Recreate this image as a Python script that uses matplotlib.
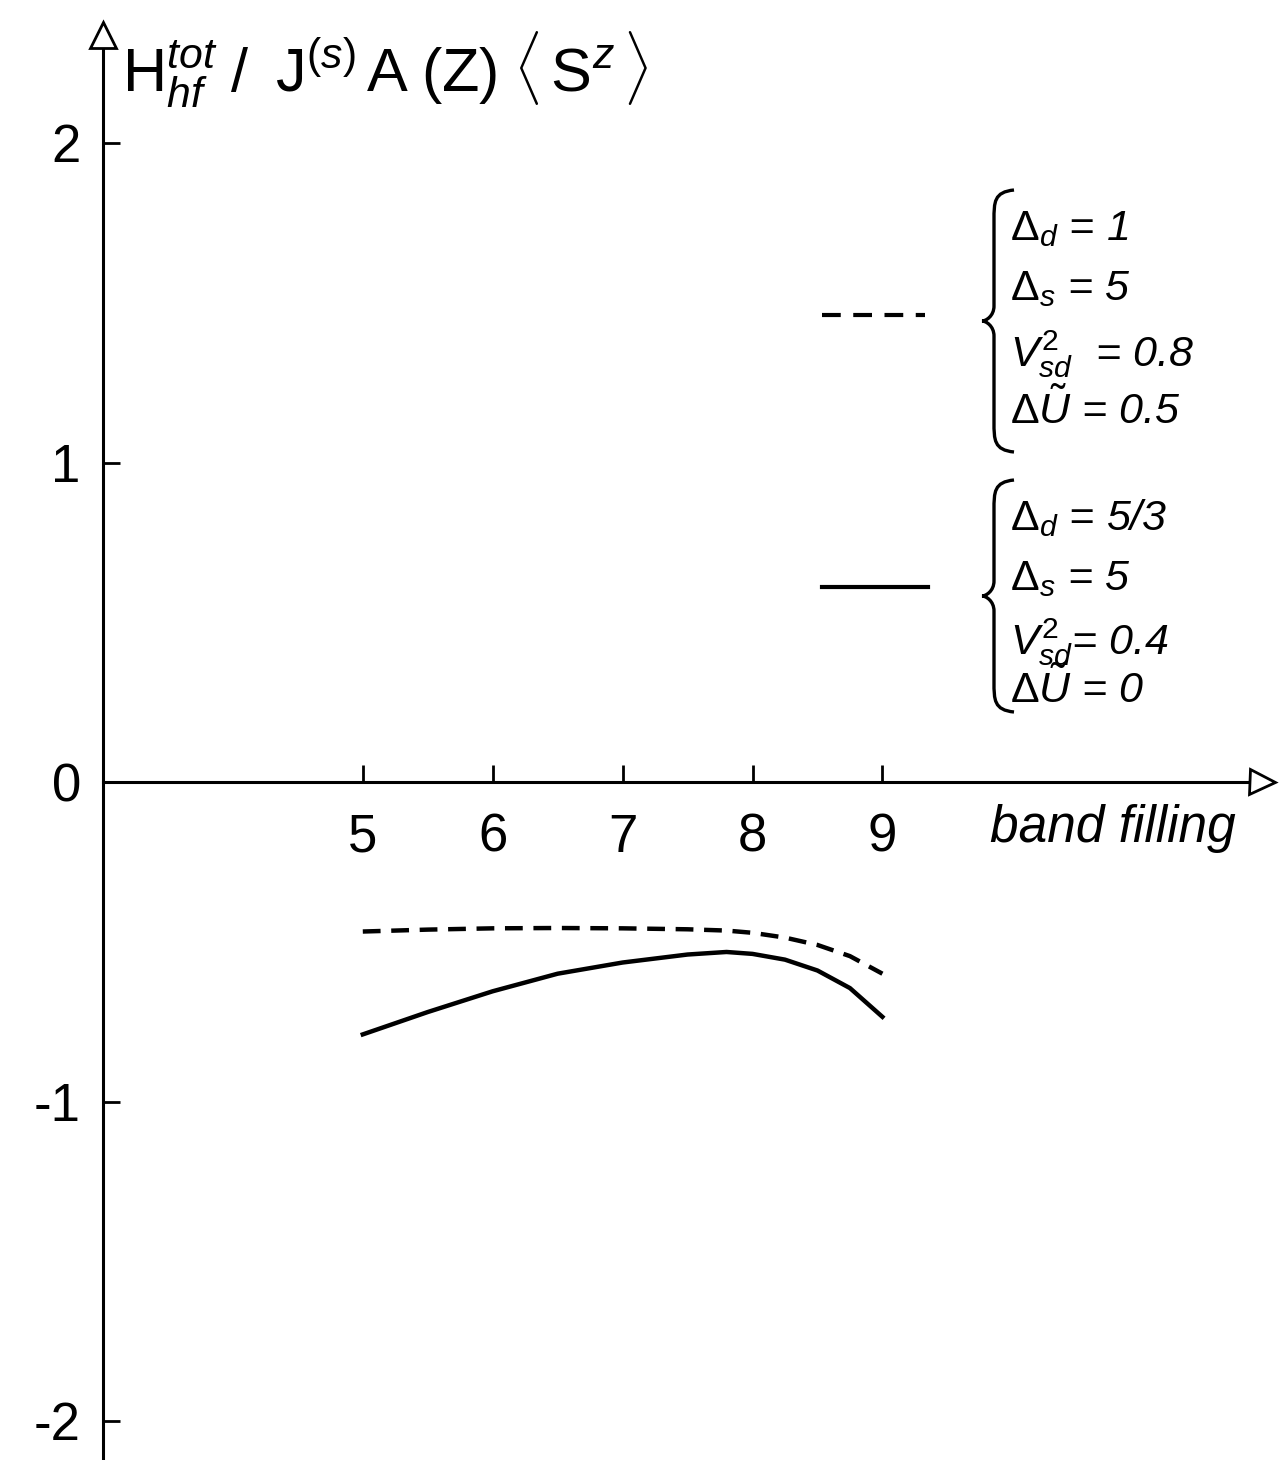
import numpy as np
import matplotlib
matplotlib.use("Agg")
import matplotlib.pyplot as plt
from matplotlib.path import Path
from matplotlib.patches import PathPatch

plt.rcParams['font.family'] = ['Liberation Sans', 'DejaVu Sans']
plt.rcParams['mathtext.fontset'] = 'custom'
plt.rcParams['mathtext.rm'] = 'Liberation Sans'
plt.rcParams['mathtext.it'] = 'Liberation Sans:italic'
plt.rcParams['mathtext.bf'] = 'Liberation Sans:bold'

# data
filling = [5.0, 5.5, 6.0, 6.5, 7.0, 7.5, 7.8, 8.0, 8.25, 8.5, 8.75, 9.0]
dashed_vals = [-0.468, -0.462, -0.458, -0.457, -0.458, -0.461, -0.465, -0.472, -0.487, -0.510, -0.545, -0.600]
solid_vals = [-0.790, -0.720, -0.655, -0.600, -0.565, -0.540, -0.532, -0.538, -0.556, -0.590, -0.645, -0.735]
xticks = [5, 6, 7, 8, 9]
yticks = [-2, -1, 0, 1, 2]
ytick_labels = ['-2', '-1', '0', '1', '2']
dashed_params = [r'$\Delta_d$ = 1', r'$\Delta_s$ = 5', r'$V_{sd}^{2}$  = 0.8', r'$\Delta\tilde{U}$ = 0.5']
solid_params = [r'$\Delta_d$ = 5/3', r'$\Delta_s$ = 5', r'$V_{sd}^{2}$= 0.4', r'$\Delta\tilde{U}$ = 0']

W, H = 1279, 1460
fig = plt.figure(figsize=(W / 100, H / 100), dpi=100)

def fx(px):
    return px / W

def fy(py):
    return 1 - py / H

# axes box in pixels
left, right, top, bottom = 103, 1262, 35, 1460
ax = fig.add_axes([fx(left), fy(bottom), fx(right) - fx(left), fy(top) - fy(bottom)])
ax.set_xlim(3, 3 + (right - left) / 129.9)
ax.set_ylim(-(bottom - 782) / 319.5, (782 - top) / 319.5)

for s in ['top', 'right']:
    ax.spines[s].set_visible(False)
ax.spines['bottom'].set_position(('data', 0))
ax.spines['left'].set_linewidth(2.2)
ax.spines['bottom'].set_linewidth(2.2)

ax.set_xticks(xticks)
ax.set_xticklabels([str(v) for v in xticks])
ax.set_yticks(yticks)
ax.set_yticklabels(ytick_labels)
ax.tick_params(axis='both', direction='in', length=12, width=2, labelsize=38)
ax.tick_params(axis='x', pad=22)
ax.tick_params(axis='y', pad=16)

# axis arrows
ax.plot(3, 1, marker='^', ms=19, mfc='white', mec='black', mew=2,
        transform=ax.get_xaxis_transform(), clip_on=False, zorder=5)
ax.plot(1, 0, marker='>', ms=18, mfc='white', mec='black', mew=2,
        transform=ax.get_yaxis_transform(), clip_on=False, zorder=5)

# curves
ax.plot(filling, dashed_vals, color='black', lw=3.2, ls=(0, (4.0, 2.4)))
ax.plot(filling, solid_vals, color='black', lw=3.2)

ax.text(9.83, -0.144, 'band filling', fontsize=37, style='italic', va='center', ha='left')

fig.text(fx(122), fy(92),
         r'$\mathrm{H}_{hf}^{tot}\;/\;\;\mathrm{J}^{(s)}\,\mathrm{A}\;(\mathrm{Z})\;\langle\,\mathrm{S}^{z}\,\rangle$',
         fontsize=44, va='baseline', ha='left')

# legend samples
fig.add_artist(plt.Line2D([fx(822), fx(925)], [fy(315), fy(315)], color='black', lw=3.0, ls=(0, (4.5, 3.0))))
fig.add_artist(plt.Line2D([fx(822), fx(928)], [fy(587), fy(587)], color='black', lw=3.0))

def brace(ytop, ybot, xtip=982, xs=994, xend=1014):
    ymid = (ytop + ybot) / 2
    pts = [(xend, ytop), (xs, ytop + 2), (xs, ytop + 12), (xs, ytop + 30),
           (xs, ymid - 15),
           (xs, ymid - 5), (xtip + 4, ymid), (xtip, ymid),
           (xtip + 4, ymid), (xs, ymid + 5), (xs, ymid + 15),
           (xs, ybot - 30),
           (xs, ybot - 12), (xs, ybot - 2), (xend, ybot)]
    codes = [Path.MOVETO, Path.CURVE4, Path.CURVE4, Path.CURVE4,
             Path.LINETO,
             Path.CURVE4, Path.CURVE4, Path.CURVE4,
             Path.CURVE4, Path.CURVE4, Path.CURVE4,
             Path.LINETO,
             Path.CURVE4, Path.CURVE4, Path.CURVE4]
    verts = [(fx(x), fy(y)) for x, y in pts]
    fig.add_artist(PathPatch(Path(verts, codes), fc='none', ec='black', lw=2.4,
                             transform=fig.transFigure))

brace(190, 452)
brace(480, 712)

for txt, yb in zip(dashed_params, [240, 300, 366, 424]):
    fig.text(fx(1010), fy(yb), txt, fontsize=31, style='italic', va='baseline', ha='left')
for txt, yb in zip(solid_params, [530, 590, 655, 703]):
    fig.text(fx(1010), fy(yb), txt, fontsize=31, style='italic', va='baseline', ha='left')

fig.savefig('out.png', dpi=100)
